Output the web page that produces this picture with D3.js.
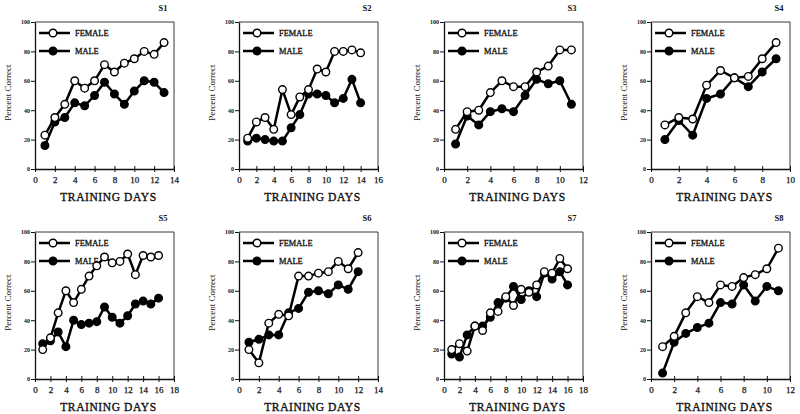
<!DOCTYPE html>
<html><head><meta charset="utf-8">
<script src="https://cdn.jsdelivr.net/npm/d3@7"></script>
<style>
body{margin:0;background:#fff;}
svg{display:block;}
text{font-family:"Liberation Serif","Times New Roman",serif;fill:#111;}
</style></head>
<body>
<svg id="c" width="800" height="414"></svg>
<script>
// ---- data ----
const panelNames = ["S1","S2","S3","S4","S5","S6","S7","S8"];
const xMax = [14,16,12,10,18,14,18,12];
const yTicks = [0,20,40,60,80,100];
const seriesNames = ["FEMALE","MALE"];

const s1Female = [23,35,44,60,55,60,71,66,72,75,80,78,86];
const s1Male   = [16,32,35,45,43,50,59,51,44,53,60,59,52];
const s2Female = [21,32,35,27,54,37,49,54,68,66,80,80,81,79];
const s2Male   = [19,21,20,19,19,28,37,51,51,50,45,48,61,45];
const s3Female = [27,39,40,52,60,56,56,66,70,81,81];
const s3Male   = [17,36,30,39,41,39,50,61,58,60,44];
const s4Female = [30,35,34,57,67,62,63,75,86];
const s4Male   = [20,33,23,48,51,62,56,66,75];
const s5Female = [20,28,45,60,52,61,70,77,83,79,80,85,71,84,83,84];
const s5Male   = [24,26,32,22,40,37,38,39,49,42,38,43,51,53,51,55];
const s6Female = [20,11,38,44,43,70,70,72,73,80,75,86];
const s6Male   = [25,27,30,30,45,48,59,60,58,64,61,73];
const s7Female = [20,24,19,36,33,45,46,56,50,61,59,64,73,72,82,75];
const s7Male   = [17,15,30,36,36,42,52,55,63,54,60,56,72,68,73,64];
const s8Female = [22,29,45,56,52,64,63,69,71,75,89];
const s8Male   = [4,25,31,35,38,52,51,64,53,63,60];

const femaleData = [s1Female,s2Female,s3Female,s4Female,s5Female,s6Female,s7Female,s8Female];
const maleData   = [s1Male,s2Male,s3Male,s4Male,s5Male,s6Male,s7Male,s8Male];

// ---- layout ----
const colLeft = [35,239,444,651];
const colW = 139;
const rowTop = [22,232];
const rowH = 147;

const svg = d3.select("#c");

panelNames.forEach((name, i) => {
  const col = i % 4, row = Math.floor(i / 4);
  const L = colLeft[col], T = rowTop[row];
  const g = svg.append("g").attr("transform", `translate(${L},${T})`);
  const x = d3.scaleLinear().domain([0, xMax[i]]).range([0, colW]);
  const y = d3.scaleLinear().domain([0, 100]).range([rowH, 0]);

  // frame (top/right)
  g.append("path").attr("d", `M0,0H${colW}V${rowH}`).attr("fill","none")
    .attr("stroke","#222").attr("stroke-width",0.9);

  // axes
  const xt = d3.range(0, xMax[i] + 1, 2);
  const xa = g.append("g").attr("transform", `translate(0,${rowH})`)
    .call(d3.axisBottom(x).tickValues(xt).tickSize(3).tickSizeOuter(0).tickFormat(d3.format("d")));
  xa.select(".domain").attr("stroke","#111").attr("stroke-width",1.3);
  xa.selectAll(".tick line").attr("y1",-3).attr("stroke","#111");
  xa.selectAll("text").attr("font-size",9).attr("dy","0.9em")
    .attr("stroke","#111").attr("stroke-width",0.25);

  const ya = g.append("g")
    .call(d3.axisLeft(y).tickValues(yTicks).tickSize(4).tickSizeOuter(0).tickFormat(d3.format("d")));
  ya.select(".domain").attr("stroke","#111").attr("stroke-width",1.3);
  ya.selectAll(".tick line").attr("stroke","#111");
  ya.selectAll("text").attr("font-size",6).attr("font-weight","bold").attr("x",-5);

  // labels
  g.append("text").attr("x", colW/2 + 4).attr("y", rowH + 32)
    .attr("text-anchor","middle").attr("font-size",11.5).attr("letter-spacing",0.6)
    .attr("stroke","#111").attr("stroke-width",0.35)
    .text("TRAINING DAYS");
  g.append("text").attr("transform", `translate(-24,${rowH*0.48}) rotate(-90)`)
    .attr("text-anchor","middle").attr("font-size",9).text("Percent Correct");
  g.append("text").attr("x", colW - 11).attr("y", -11)
    .attr("text-anchor","middle").attr("font-size",8.5).attr("font-weight","bold").text(name);

  // series
  const line = d3.line().x((d, k) => x(k + 1)).y(d => y(d));
  const drawSeries = (vals, fill) => {
    g.append("path").datum(vals).attr("d", line).attr("fill","none")
      .attr("stroke","#000").attr("stroke-width",2.5).attr("stroke-linejoin","round");
    g.selectAll(null).data(vals).enter().append("circle")
      .attr("cx", (d, k) => x(k + 1)).attr("cy", d => y(d)).attr("r", 3.8)
      .attr("fill", fill).attr("stroke","#000").attr("stroke-width",1.4);
  };

  // legend
  const legY = [11, 29];
  seriesNames.forEach((s, k) => {
    g.append("line").attr("x1",4).attr("x2",35).attr("y1",legY[k]).attr("y2",legY[k])
      .attr("stroke","#000").attr("stroke-width",2.5);
    g.append("circle").attr("cx",18).attr("cy",legY[k]).attr("r",3.8)
      .attr("fill", k === 0 ? "#fff" : "#000").attr("stroke","#000").attr("stroke-width",1.4);
    g.append("text").attr("x",40).attr("y",legY[k]).attr("dy","0.35em")
      .attr("font-size",8.4).attr("stroke","#111").attr("stroke-width",0.3).text(s);
  });

  drawSeries(maleData[i], "#000");
  drawSeries(femaleData[i], "#fff");
});
</script>
</body></html>
